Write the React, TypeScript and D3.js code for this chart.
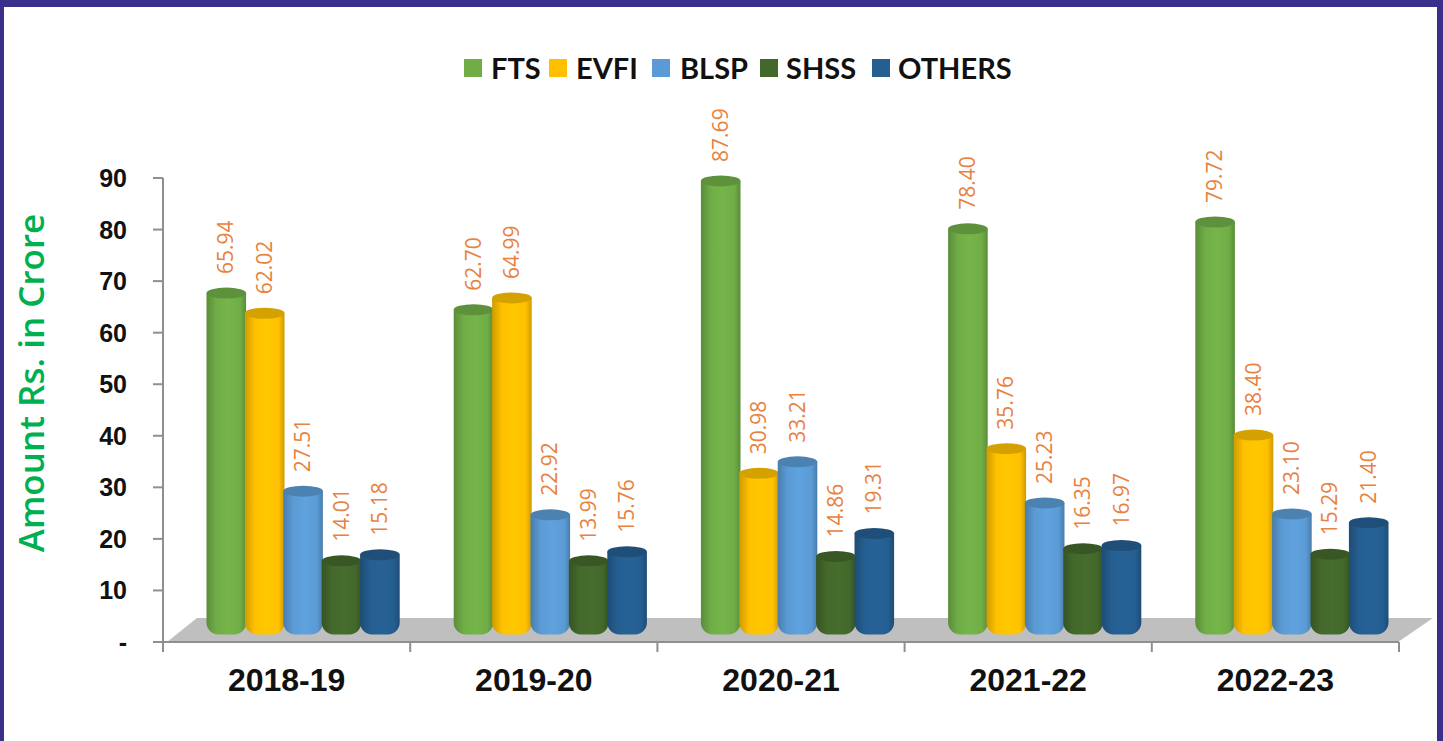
import * as d3 from 'd3'

const years = ['2018-19', '2019-20', '2020-21', '2021-22', '2022-23']
const seriesNames = ['FTS', 'EVFI', 'BLSP', 'SHSS', 'OTHERS']
const colors = ['#70ad47', '#ffc000', '#5b9bd5', '#43682b', '#255e91']
const fts = [65.94, 62.7, 87.69, 78.4, 79.72]
const evfi = [62.02, 64.99, 30.98, 35.76, 38.4]
const blsp = [27.51, 22.92, 33.21, 25.23, 23.1]
const shss = [14.01, 13.99, 14.86, 16.35, 15.29]
const others = [15.18, 15.76, 19.31, 16.97, 21.4]
const seriesValues = [fts, evfi, blsp, shss, others]
const yTicks = [0, 10, 20, 30, 40, 50, 60, 70, 80, 90]

// layout
const W = 1443, H = 741
const FRAME = '#3b2f8c'
const AXIS = '#8f8f8f'
const depthX = 31, depthY = 24
const barShift = { x: 16.5, y: -9 }
const legendSwatchX = [464, 549, 652, 760, 872]
const legendTextX = [491, 576, 680, 786, 898]

const x0 = d3.scaleBand<string>().domain(years).range([163, 1399])
const x1 = d3.scaleBand<string>().domain(seriesNames).range([-96, 96])
const y = d3.scaleLinear().domain([0, 90]).range([642, 178])

function Cylinder({ cx, top, bottom, idx }: { cx: number; top: number; bottom: number; idx: number }) {
  const rx = x1.bandwidth() / 2 + 0.6
  const ry = 5.5
  const p = d3.path()
  p.moveTo(cx - rx, top)
  p.lineTo(cx - rx, bottom)
  p.arcTo(cx - rx, bottom + ry, cx, bottom + ry, rx * 0.6)
  p.lineTo(cx, bottom + ry)
  p.arcTo(cx + rx, bottom + ry, cx + rx, bottom, rx * 0.6)
  p.lineTo(cx + rx, top)
  p.closePath()
  return (
    <g>
      <path d={p.toString()} fill={`url(#cyl${idx})`} />
      <ellipse cx={cx} cy={top} rx={rx} ry={ry} fill={d3.color(colors[idx])!.darker(0.5).formatHex()} />
    </g>
  )
}

export default function App() {
  const floor = [
    [x0.range()[0] + 4, y(0)],
    [x0.range()[1] - 1, y(0)],
    [x0.range()[1] - 1 + depthX + 4, y(0) - depthY],
    [x0.range()[0] + 3 + depthX, y(0) - depthY],
  ] as [number, number][]

  return (
    <svg width={W} height={H} style={{ position: 'absolute', left: 0, top: 0, background: '#fff' }}>
      <defs>
        {colors.map((c, i) => {
          const dark = d3.color(c)!.darker(0.6).formatHex()
          const light = d3.color(c)!.brighter(0.12).formatHex()
          return (
            <linearGradient key={c} id={`cyl${i}`} x1="0" x2="1" y1="0" y2="0">
              <stop offset="0" stopColor={dark} />
              <stop offset="0.25" stopColor={c} />
              <stop offset="0.55" stopColor={light} />
              <stop offset="0.85" stopColor={c} />
              <stop offset="1" stopColor={dark} />
            </linearGradient>
          )
        })}
      </defs>

      {/* frame */}
      <rect x={0} y={0} width={W} height={7} fill={FRAME} />
      <rect x={0} y={0} width={4} height={H} fill={FRAME} />
      <rect x={W - 6} y={0} width={6} height={H} fill={FRAME} />

      {/* legend */}
      {seriesNames.map((s, i) => (
        <g key={s}>
          <rect x={legendSwatchX[i]} y={59} width={18} height={18} fill={colors[i]} />
          <text x={legendTextX[i]} y={79} fontFamily="Lato" fontWeight={700} fontSize={29} fill="#111">{s}</text>
        </g>
      ))}

      {/* floor */}
      <path d={d3.line()(floor)! + 'Z'} fill="#bfbfbf" />

      {/* axes */}
      <line x1={163} x2={163} y1={y(90)} y2={y(0)} stroke={AXIS} strokeWidth={2} />
      <line x1={163} x2={1399} y1={y(0)} y2={y(0)} stroke={AXIS} strokeWidth={2} />
      {yTicks.map(t => (
        <g key={t}>
          <line x1={153} x2={163} y1={y(t)} y2={y(t)} stroke={AXIS} strokeWidth={2} />
          <text x={127} y={y(t) + 9} textAnchor="end" fontFamily="Liberation Sans" fontWeight={700} fontSize={25} fill="#111">
            {t === 0 ? '-' : t}
          </text>
        </g>
      ))}
      {[...years.map(c => x0(c)!), x0.range()[1]].map(t => (
        <line key={t} x1={t} x2={t} y1={y(0)} y2={y(0) + 10} stroke={AXIS} strokeWidth={2} />
      ))}
      {years.map(c => (
        <text key={c} x={x0(c)! + x0.bandwidth() / 2} y={691} textAnchor="middle" fontFamily="Liberation Sans" fontWeight={700} fontSize={32} fill="#111">
          {c}
        </text>
      ))}

      <text
        transform="translate(44,383) rotate(-90)"
        textAnchor="middle"
        fontFamily="Open Sans"
        fontWeight={600}
        fontSize={35}
        fill="#00b050"
      >
        Amount Rs. in Crore
      </text>

      {/* bars */}
      {years.map((c, yi) => {
        const center = x0(c)! + x0.bandwidth() / 2 + barShift.x
        return (
          <g key={c}>
            {seriesNames.map((s, si) => {
              const v = seriesValues[si][yi]
              const cx = center + x1(s)! + x1.bandwidth() / 2
              const top = y(v) + barShift.y
              return (
                <g key={s}>
                  <Cylinder cx={cx} top={top} bottom={y(0) + barShift.y - 4} idx={si} />
                  <text
                    transform={`translate(${cx + 7},${top - 19}) rotate(-90)`}
                    fontFamily="Open Sans"
                    fontSize={21}
                    fill="#e8823f"
                  >
                    {v.toFixed(2)}
                  </text>
                </g>
              )
            })}
          </g>
        )
      })}
    </svg>
  )
}
